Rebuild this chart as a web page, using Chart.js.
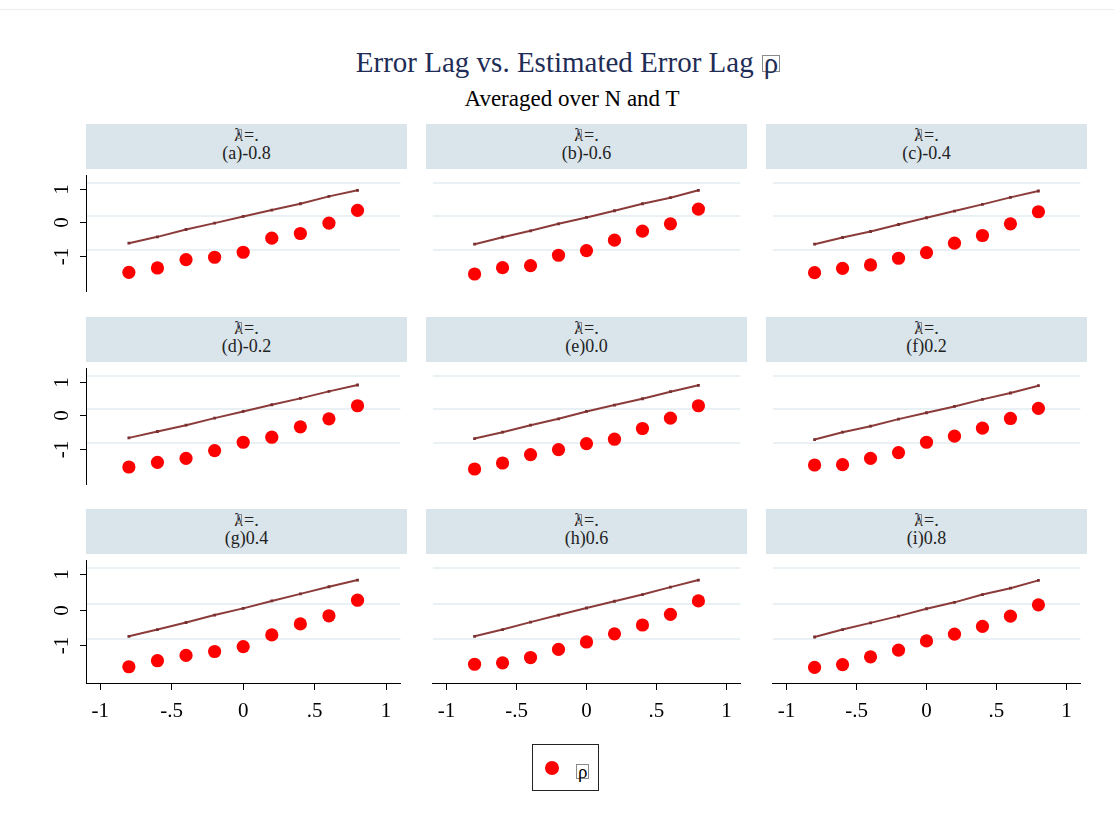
<!DOCTYPE html>
<html>
<head>
<meta charset="utf-8">
<script src="https://cdn.jsdelivr.net/npm/chart.js@4.4.1/dist/chart.umd.min.js"></script>
<style>
  body { margin: 0; background: #fff; width: 1114px; height: 816px; position: relative; overflow: hidden;
         font-family: "Liberation Serif", "Times New Roman", serif; }
  .topline { position: absolute; left: 0; top: 9px; width: 1114px; height: 1px; background: #ececec; }
  #title { position: absolute; left: 0; width: 1136px; top: 44px; text-align: center; font-size: 29px;
           line-height: 36px; color: #1f2d56; white-space: nowrap; }
  #subtitle { position: absolute; left: 0; width: 1144px; top: 86px; text-align: center; font-size: 23px;
              line-height: 26px; color: #000; white-space: nowrap; }
  .rb { display: inline-block; border: 1px solid #8a8a8a; line-height: 15px; height: 15px; padding: 0 1px;
        margin-left: 8px; vertical-align: -1px; }
  .head { position: absolute; height: 45px; background: #d9e5eb; color: #222; text-align: center;
          font-size: 18px; line-height: 18px; }
  .head .l1 { display: block; margin-top: 2px; }
  .head .lb { display: inline-block; width: 3px; height: 8px; border: 1px solid #888; margin-left: -6px;
              margin-right: 2px; vertical-align: 2px; }
  canvas { position: absolute; }
  .legend { position: absolute; left: 532px; top: 744px; width: 67px; height: 47px; box-sizing: border-box;
            border: 1.5px solid #222; }
  .legend .dot { position: absolute; left: 12px; top: 16px; width: 14px; height: 14px; border-radius: 50%; background: #ff0000; }
  .legend .txt { position: absolute; left: 43px; top: 19px; font-size: 19px; line-height: 13px; height: 13px;
                 border: 1px solid #8a8a8a; padding: 0 1px; }
</style>
</head>
<body>
<div class="topline"></div>
<div id="title">Error Lag vs. Estimated Error Lag<span class="rb">ρ</span></div>
<div id="subtitle">Averaged over N and T</div>
<div class="legend"><span class="dot"></span><span class="txt">ρ</span></div>

<script>
// x positions shared by all panels
const xVals = [-0.8, -0.6, -0.4, -0.2, 0, 0.2, 0.4, 0.6, 0.8];
const xTicks = [-1, -0.5, 0, 0.5, 1];
const yTicks = [-1, 0, 1];
const panelTitles = ['(a)-0.8', '(b)-0.6', '(c)-0.4', '(d)-0.2', '(e)0.0', '(f)0.2', '(g)0.4', '(h)0.6', '(i)0.8'];

// error lag (line) per panel
const lineA = [-0.80, -0.61, -0.39, -0.20, 0.00, 0.19, 0.38, 0.60, 0.78];
const lineB = [-0.83, -0.62, -0.43, -0.22, -0.03, 0.17, 0.38, 0.56, 0.78];
const lineC = [-0.83, -0.63, -0.45, -0.24, -0.04, 0.16, 0.36, 0.57, 0.76];
const lineD = [-0.85, -0.66, -0.47, -0.26, -0.06, 0.14, 0.33, 0.54, 0.73];
const lineE = [-0.87, -0.68, -0.47, -0.28, -0.06, 0.13, 0.32, 0.53, 0.72];
const lineF = [-0.90, -0.68, -0.50, -0.29, -0.10, 0.09, 0.30, 0.49, 0.71];
const lineG = [-0.92, -0.73, -0.53, -0.32, -0.13, 0.08, 0.28, 0.48, 0.67];
const lineH = [-0.92, -0.73, -0.52, -0.32, -0.12, 0.07, 0.26, 0.47, 0.67];
const lineI = [-0.94, -0.73, -0.54, -0.35, -0.14, 0.04, 0.26, 0.44, 0.66];

// estimated error lag rho-bar (dots) per panel
const rhoA = [-1.67, -1.54, -1.29, -1.22, -1.07, -0.65, -0.51, -0.20, 0.18];
const rhoB = [-1.72, -1.53, -1.47, -1.16, -1.02, -0.71, -0.44, -0.22, 0.22];
const rhoC = [-1.68, -1.55, -1.45, -1.25, -1.08, -0.80, -0.57, -0.22, 0.14];
const rhoD = [-1.72, -1.58, -1.46, -1.23, -0.98, -0.83, -0.52, -0.28, 0.11];
const rhoE = [-1.78, -1.60, -1.35, -1.20, -1.02, -0.89, -0.57, -0.26, 0.11];
const rhoF = [-1.66, -1.65, -1.46, -1.29, -0.98, -0.80, -0.56, -0.27, 0.03];
const rhoG = [-1.78, -1.61, -1.46, -1.35, -1.21, -0.88, -0.57, -0.34, 0.10];
const rhoH = [-1.71, -1.67, -1.52, -1.29, -1.08, -0.85, -0.60, -0.30, 0.08];
const rhoI = [-1.80, -1.72, -1.50, -1.31, -1.05, -0.86, -0.64, -0.35, -0.03];

const lines = [lineA, lineB, lineC, lineD, lineE, lineF, lineG, lineH, lineI];
const rhos = [rhoA, rhoB, rhoC, rhoD, rhoE, rhoF, rhoG, rhoH, rhoI];

// grid geometry
const colLeft = [86, 426, 766];
const rowTop = [169, 362, 554];
const plotW = 321, plotH = 129, axisPad = 46, xAxisH = 45;

const fmtTick = v => v === 0 ? '0' : (v < 0 ? '-' : '') + String(Math.abs(v)).replace(/^0/, '');

// Stata-style rotated y labels, sitting slightly below the grid lines
const yTickPlugin = {
  id: 'yTicks',
  afterDraw(chart, args, opts) {
    if (!opts.show) return;
    const { ctx, chartArea, scales } = chart;
    ctx.save();
    ctx.strokeStyle = '#000';
    ctx.fillStyle = '#000';
    ctx.lineWidth = 1;
    ctx.font = '21px "Liberation Serif"';
    ctx.textAlign = 'center';
    ctx.textBaseline = 'middle';
    yTicks.forEach(v => {
      const py = Math.round(scales.y.getPixelForValue(v) + 6) + 0.5;
      ctx.beginPath();
      ctx.moveTo(chartArea.left - 6, py);
      ctx.lineTo(chartArea.left, py);
      ctx.stroke();
      ctx.save();
      ctx.translate(chartArea.left - 25, py);
      ctx.rotate(-Math.PI / 2);
      ctx.fillText(fmtTick(v), 0, 1);
      ctx.restore();
    });
    ctx.restore();
  }
};

panelTitles.forEach((title, i) => {
  const r = Math.floor(i / 3), c = i % 3;
  const bottomRow = r === 2;

  const head = document.createElement('div');
  head.className = 'head';
  head.style.left = colLeft[c] + 'px';
  head.style.top = (rowTop[r] - 45) + 'px';
  head.style.width = plotW + 'px';
  head.innerHTML = '<span class="l1">λ<span class="lb"></span>=.</span><span>' + title + '</span>';
  document.body.appendChild(head);

  const padL = c === 0 ? axisPad : 0;
  const cv = document.createElement('canvas');
  cv.width = plotW + padL;
  cv.height = plotH + (bottomRow ? xAxisH : 0);
  cv.style.left = (colLeft[c] - padL) + 'px';
  cv.style.top = rowTop[r] + 'px';
  document.body.appendChild(cv);

  new Chart(cv, {
    type: 'scatter',
    data: {
      datasets: [{
        data: xVals.map((x, k) => ({ x, y: lines[i][k] })),
        showLine: true,
        borderColor: '#8c3b3b',
        borderWidth: 2,
        pointStyle: 'rect',
        pointRadius: 2,
        pointBackgroundColor: '#7a3030',
        pointBorderWidth: 0,
      }, {
        data: xVals.map((x, k) => ({ x, y: rhos[i][k] })),
        backgroundColor: '#ff0000',
        pointRadius: 6.6,
        borderWidth: 0,
      }],
    },
    options: {
      responsive: false,
      animation: false,
      events: [],
      layout: { padding: { left: padL, right: 0, top: 0, bottom: 0 } },
      plugins: {
        legend: { display: false },
        tooltip: { enabled: false },
        yTicks: { show: c === 0 },
      },
      scales: {
        x: {
          type: 'linear',
          min: -1.1,
          max: 1.1,
          display: bottomRow,
          afterBuildTicks(s) { s.ticks = xTicks.map(v => ({ value: v })); },
          afterFit(s) { s.height = bottomRow ? xAxisH : 0; },
          grid: { drawOnChartArea: false, drawTicks: true, tickLength: 7, color: '#000' },
          border: { display: true, color: '#000', width: 1 },
          ticks: {
            color: '#000',
            padding: 9,
            maxRotation: 0,
            autoSkip: false,
            font: { family: 'Liberation Serif', size: 21 },
            callback: v => fmtTick(v),
          },
        },
        y: {
          type: 'linear',
          min: -2.24,
          max: 1.22,
          afterBuildTicks(s) { s.ticks = yTicks.map(v => ({ value: v })); },
          afterFit(s) { s.width = 0; },
          ticks: { display: false },
          grid: { color: '#eaf1f4', lineWidth: 2, drawTicks: false },
          border: { display: c === 0, color: '#000', width: 1 },
        },
      },
    },
    plugins: [yTickPlugin],
  });
});
</script>
</body>
</html>
